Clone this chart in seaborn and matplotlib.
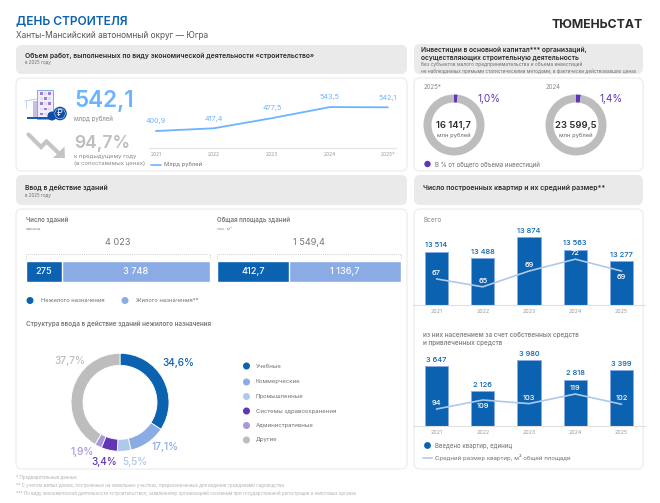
import matplotlib
matplotlib.use("Agg")
import matplotlib.pyplot as plt
from matplotlib.patches import FancyBboxPatch, Rectangle, Circle, Polygon
import seaborn as sns
import pandas as pd

W, H = 660, 503
BLUE = "#0B62B0"; MID = "#8AABE3"; PALE = "#AFC9EA"; PURPLE = "#6135B5"; LILAC = "#AA96DC"
GREY = "#BDBDBD"; SKY = "#6DB3FF"; INK = "#2B2B2B"; TXT = "#6E6E6E"; HEAD = "#EAEAEA"; EDGE = "#EDEDED"

years = ["2021", "2022", "2023", "2024", "2025*"]
years_plain = ["2021", "2022", "2023", "2024", "2025"]
work_volume = [400.9, 417.4, 477.5, 543.5, 542.1]
work_labels = ["400,9", "417,4", "477,5", "543,5", "542,1"]
all_flats_drawn = [13514, 13360, 13874, 13563, 13277]
all_flats_labels = ["13 514", "13 488", "13 874", "13 563", "13 277"]
all_size = [67, 65, 69, 72, 69]
own_flats = [3647, 2126, 3980, 2818, 3399]
own_flats_labels = ["3 647", "2 126", "3 980", "2 818", "3 399"]
own_size = [94, 109, 103, 119, 102]
count_drawn = [19.3, 80.7]
area_drawn = [39.2, 60.8]
struct_names = ["Учебные", "Коммерческие", "Промышленные", "Системы здравоохранения", "Административные", "Другие"]
struct_labels = ["34,6%", "17,1%", "5,5%", "3,4%", "1,9%", "37,7%"]
struct_drawn = [34.3, 12.1, 4.5, 5.3, 2.3, 41.5]
invest_drawn_2025 = [2.0, 98.0]
invest_drawn_2024 = [2.6, 97.4]

sns.set_theme(style="white")
plt.rcParams["font.family"] = ["Inter", "Roboto", "DejaVu Sans"]

fig = plt.figure(figsize=(W / 100, H / 100), dpi=100, facecolor="white")
bg = fig.add_axes([0, 0, 1, 1]); bg.set_xlim(0, W); bg.set_ylim(H, 0); bg.axis("off")

def T(x, y, s, size=5, color=TXT, weight="normal", ha="left", ax=bg):
    return ax.text(x, y, s, fontsize=size, color=color, fontweight=weight, ha=ha, va="center", zorder=10)

def panel(x0, y0, x1, y1, face, edge="none", r=6):
    bg.add_patch(FancyBboxPatch((x0 + r, y0 + r), x1 - x0 - 2 * r, y1 - y0 - 2 * r,
                                boxstyle=f"round,pad={r},rounding_size={r}", fc=face, ec=edge, lw=0.9))

def sub(x0, y0, x1, y1):
    ax = fig.add_axes([x0 / W, 1 - y1 / H, (x1 - x0) / W, (y1 - y0) / H])
    ax.patch.set_alpha(0)
    ax.set_zorder(3)
    return ax

for box in [(16, 45, 407, 74), (414, 44, 643, 74), (16, 175, 407, 205), (414, 175, 643, 205)]:
    panel(*box, HEAD)
for box in [(16, 78, 407, 171), (414, 78, 643, 171), (16, 209, 407, 469), (414, 209, 643, 469)]:
    panel(*box, "white", EDGE)

T(16, 21, "ДЕНЬ СТРОИТЕЛЯ", 8.6, BLUE, "semibold")
T(16, 35, "Ханты-Мансийский автономный округ — Югра", 6.0, "#555555")
T(643, 25, "ТЮМЕНЬСТАТ", 8.8, INK, "bold", ha="right")

T(25, 55.5, "Объем работ, выполненных по виду экономической деятельности «строительство»", 4.85, INK, "semibold")
T(25, 62.5, "в 2025 году", 3.2, TXT)
T(421, 49.5, "Инвестиции в основной капитал*** организаций,", 4.8, INK, "semibold")
T(421, 57.8, "осуществляющих строительную деятельность", 4.8, INK, "semibold")
T(421, 64.7, "без субъектов малого предпринимательства и объема инвестиций", 3.5, TXT)
T(421, 71, "не наблюдаемых прямыми статистическими методами, в фактически действовавших ценах", 3.4, TXT)
T(25, 187.5, "Ввод в действие зданий", 4.9, INK, "semibold")
T(25, 195, "в 2025 году", 3.2, TXT)
T(423, 187.5, "Число построенных квартир и их средний размер**", 5.0, INK, "semibold")

# icons
bg.add_patch(Rectangle((37, 89.5), 16, 29, fc="#F1EEFA", ec="#7FA9E6", lw=0.7))
for i in range(5):
    for j in range(3):
        bg.add_patch(Rectangle((39.5 + j * 4.3, 92 + i * 5.2), 3, 2.6, fc="#9A7FD6" if (i + j) % 2 == 0 else "#E2DCF5", ec="none"))
bg.add_patch(Rectangle((33, 101), 3.5, 16, fc="#C9BCEB", ec="none"))
bg.plot([25, 37], [101, 99], color="#B9D2F2", lw=0.8)
bg.plot([25.5, 25.5], [101, 108], color="#B9D2F2", lw=0.6)
bg.add_patch(Rectangle((27, 117), 23, 2, fc=BLUE, ec="none"))
bg.add_patch(Circle((52, 116), 4.5, fc="#0F4FA8", ec="none"))
bg.add_patch(Circle((60, 113.5), 6.8, fc="#0F4FA8", ec="none"))
bg.add_patch(Circle((60, 113.5), 5.2, fc="none", ec="white", lw=0.3))
T(60, 113.5, "₽", 6, "white", ha="center")
bg.plot([28.5, 41, 46.5, 58], [134.5, 147, 141.5, 152.5], color="#C4C4C4", lw=3.0, solid_joinstyle="miter")
bg.add_patch(Polygon([(65, 158), (53, 158), (64.5, 146.5)], fc="#C4C4C4", ec="none"))

T(74, 101, "542,1", 16.2, SKY, "semibold")
T(74, 119, "млрд рублей", 4.4, "#888888")
T(74, 143, "94,7%", 12.6, "#BEBEBE", "semibold")
T(74, 156.5, "к предыдущему году", 4.3, "#888888")
T(74, 164, "(в сопоставимых ценах)", 4.3, "#888888")

# work volume line
ax = sub(149, 90, 396, 148)
wdf = pd.DataFrame({"year": years, "value": work_volume})
sns.lineplot(data=wdf, x="year", y="value", ax=ax, color=SKY, lw=1.3, sort=False)
ax.set_xlim(-0.12, 4.14); ax.set_ylim(300, 645)
sns.despine(ax=ax, left=True)
ax.spines["bottom"].set_color("#E6E6E6"); ax.spines["bottom"].set_linewidth(0.9)
ax.set_xlabel(""); ax.set_ylabel(""); ax.set_yticks([])
ax.tick_params(axis="x", length=0, labelsize=3.6, labelcolor="#999999", pad=3)
for i, (v, s) in enumerate(zip(work_volume, work_labels)):
    ax.annotate(s, (i, v), xytext=(0, 7), textcoords="offset points", ha="center", va="center", fontsize=5.2, color=SKY)
bg.plot([151, 161], [164.5, 164.5], color=SKY, lw=1.2)
T(163.5, 164.5, "Млрд рублей", 4.2, TXT)

# investment donuts
for cx, drawn, year, total, share in [(454, invest_drawn_2025, "2025*", "16 141,7", "1,0%"),
                                      (576, invest_drawn_2024, "2024", "23 599,5", "1,4%")]:
    ax = sub(cx - 32, 125 - 32, cx + 32, 125 + 32)
    ax.pie(drawn, colors=[PURPLE, GREY], startangle=90, counterclock=False, radius=30.5 / 32,
           wedgeprops=dict(width=8 / 32, lw=0))
    ax.set_xlim(-1, 1); ax.set_ylim(-1, 1)
    T(cx - 30.5, 87, year, 4.4, "#888888")
    T(cx + 24, 99, share, 7.2, PURPLE)
    T(cx, 125, total, 6.8, INK, "semibold", ha="center")
    T(cx, 135, "млн рублей", 4.2, "#666666", ha="center")
bg.add_patch(Circle((427.5, 164), 3.2, fc=PURPLE, ec="none"))
T(435, 164.5, "В % от общего объема инвестиций", 4.4, TXT)

# stacked bars
for x0, x1, title, unit, total, parts, labels in [
        (26, 210, "Число зданий", "единиц", "4 023", count_drawn, ["275", "3 748"]),
        (217, 401, "Общая площадь зданий", "тыс. м²", "1 549,4", area_drawn, ["412,7", "1 136,7"])]:
    ax = sub(x0, 261, x1, 282)
    sns.barplot(x=[sum(parts)], y=[0], orient="h", color=MID, saturation=1, width=1, ax=ax)
    sns.barplot(x=[parts[0]], y=[0], orient="h", color=BLUE, saturation=1, width=1, ax=ax)
    ax.set_xlim(0, sum(parts)); ax.axis("off")
    T(parts[0] / 2, 0, labels[0], 6.6, "white", "medium", ha="center", ax=ax)
    T(parts[0] + parts[1] / 2, 0, labels[1], 6.6, "white", "medium", ha="center", ax=ax)
    T(x0, 220, title, 4.4, "#777777", "semibold")
    T(x0, 228.5, unit, 3.0, "#888888")
    T((x0 + x1) / 2, 242.5, total, 6.6, "#777777", ha="center")
    bg.plot([x0, x0, x1, x1], [259, 254, 254, 259], color="#BDBDBD", lw=0.5, ls=(0, (1.5, 1.5)))

for cx, c, s in [(30, BLUE, "Нежилого назначения"), (125, MID, "Жилого назначения**")]:
    bg.add_patch(Circle((cx, 300.5), 3.5, fc=c, ec="none"))
    T(cx + 11, 300.5, s, 4.15, TXT)

T(26, 323.5, "Структура ввода в действие зданий нежилого назначения", 4.55, "#777777", "semibold")
ax = sub(120 - 52, 402.3 - 52, 120 + 52, 402.3 + 52)
colors = [BLUE, MID, PALE, PURPLE, LILAC, GREY]
ax.pie(struct_drawn, colors=colors, startangle=90, counterclock=False, radius=49 / 52,
       wedgeprops=dict(width=12 / 52, lw=0.6, edgecolor="white"))
ax.set_xlim(-1, 1); ax.set_ylim(-1, 1)
for (x, y, c), s in zip([(178.5, 362.5, BLUE), (164.5, 447.5, MID), (134.5, 462, PALE), (104.5, 462, PURPLE),
                         (82, 452, LILAC), (69.5, 360.5, GREY)], struct_labels):
    T(x, y, s, 7.2, c, "medium", ha="center")
for y, c, s in zip([366, 382, 396.5, 411, 425.5, 440], colors, struct_names):
    bg.add_patch(Circle((246.5, y), 3.5, fc=c, ec="none"))
    T(255.5, y, s, 4.3, TXT)

# flats charts
def flats(top, base, ymin, ymax, line_lo, line_hi, flats_v, labels, sizes, below):
    ax = sub(413.4, top, 644.6, base)
    d = pd.DataFrame({"year": years_plain, "flats": flats_v, "size": sizes})
    sns.barplot(data=d, x="year", y="flats", color=BLUE, saturation=1, width=0.5, ax=ax,
                edgecolor=MID, linewidth=0.6)
    ax.set_ylim(ymin, ymax); ax.set_xlim(-0.5, 4.5)
    sns.despine(ax=ax, left=True)
    ax.spines["bottom"].set_color("#E0E0E0"); ax.spines["bottom"].set_linewidth(0.8)
    ax.set_xlabel(""); ax.set_ylabel(""); ax.set_yticks([])
    ax.tick_params(axis="x", length=0, labelsize=3.8, labelcolor="#999999", pad=3)
    for i, (v, s) in enumerate(zip(flats_v, labels)):
        ax.annotate(s, (i, v), xytext=(0, 4.4), textcoords="offset points", ha="center", va="center",
                    fontsize=5.4, color=BLUE, fontweight="medium")
    tw = ax.twinx(); tw.patch.set_alpha(0)
    sns.lineplot(data=d, x="year", y="size", ax=tw, color=PALE, lw=1.2, sort=False)
    tw.set_ylim(line_lo, line_hi); tw.axis("off")
    for i, (v, b) in enumerate(zip(sizes, below)):
        tw.annotate(str(v), (i, v), xytext=(0, -4.2 if b else 4.2), textcoords="offset points", ha="center",
                    va="center", fontsize=5.4, color="white", fontweight="medium")

T(423, 220.5, "Всего", 4.6, "#888888")
flats(225, 305, 12177, 12177 + 80 / 0.04, 60.4, 60.4 + 80 / 3.95, all_flats_drawn, all_flats_labels, all_size,
      [False, False, False, False, True])
T(423, 335, "из них населением за счет собственных средств", 4.6, "#888888", "semibold")
T(423, 342.5, "и привлеченных средств", 4.6, "#888888", "semibold")
flats(350, 426, 0, 76 / 0.0165, 65.7, 65.7 + 76 / 0.6, own_flats, own_flats_labels, own_size,
      [False, True, False, False, False])
bg.add_patch(Circle((427.5, 445.5), 3.4, fc=BLUE, ec="none"))
T(435, 445.5, "Введено квартир, единиц", 4.4, TXT)
bg.plot([423, 432], [457.5, 457.5], color=PALE, lw=1.2)
T(435, 457.5, "Средний размер квартир, м² общей площади", 4.35, TXT)

for y, s in [(478, "* Предварительные данные"),
             (486, "** С учетом жилых домов, построенных на земельных участках, предназначенных для ведения гражданами садоводства"),
             (493.5, "*** По виду экономической деятельности «строительство», заявленному организацией основным при государственной регистрации в налоговых органах")]:
    T(16, y, s, 3.17, "#B0B0B0")

fig.savefig("out.png", dpi=100, facecolor="white")
